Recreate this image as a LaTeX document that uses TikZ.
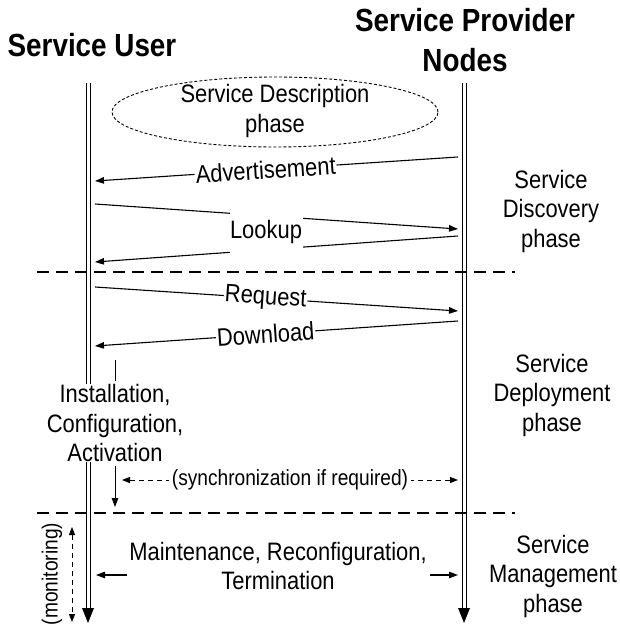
\documentclass[tikz,border=0pt]{standalone}
\usepackage{fontspec}
% slightly condensed face, so the letters are tall for their width
\setmainfont[FakeStretch=0.87]{Liberation Sans}
\usetikzlibrary{arrows.meta,shapes.geometric}

\begin{document}
\begin{tikzpicture}[x=1pt,y=-1pt,
  txt/.style={font=\fontsize{25.2}{29.5}\selectfont, align=center, inner sep=0pt},
  small/.style={font=\fontsize{22}{24}\selectfont, align=center, inner sep=0pt},
  head/.style={font=\fontsize{32}{40}\selectfont\bfseries, align=center, inner sep=0pt},
  msg/.style={line width=1.1pt, -{Triangle[length=9pt,width=6.5pt]}},
  lbl/.style={txt, fill=white, sloped, inner xsep=1pt, inner ysep=1pt},
  phaseline/.style={line width=1.1pt, dash pattern=on 12pt off 7pt},
  sync/.style={line width=1pt, dash pattern=on 5pt off 4pt,
    {Triangle[length=8pt,width=6pt]}-{Triangle[length=8pt,width=6pt]}},
  life/.style={line width=1pt},
]
\useasboundingbox (0,0) rectangle (619,628);

% headers
\node[head] (user) at (92,45) {Service User};
\node[head] (prov) at (465,40) {Service Provider\\Nodes};

% lifelines (double lines with a filled head)
\coordinate (uTop) at (88,83);  \coordinate (uEnd) at (88,609); \coordinate (uBot) at (88,623);
\coordinate (pTop) at (464,83); \coordinate (pEnd) at (464,609); \coordinate (pBot) at (464,623);
\foreach \s in {-2,2} {
  \draw[life] ([xshift=\s pt]uTop) -- ([xshift=\s pt]uEnd);
  \draw[life] ([xshift=\s pt]pTop) -- ([xshift=\s pt]pEnd);
}
\fill (uBot) -- ++(-6,-15) -- ++(12,0) -- cycle;
\fill (pBot) -- ++(-6,-15) -- ++(12,0) -- cycle;

% service description
\node[ellipse, draw, line width=0.9pt, dash pattern=on 3pt off 2pt,
  minimum width=326pt, minimum height=70pt] (desc) at (275,112) {};
\node[txt] (desctxt) at (275,111) {Service Description\\phase};

% discovery messages
\coordinate (a1) at (458,157); \coordinate (a2) at (95,181);
\draw[msg] (a1) -- node[lbl, pos=0.53] (adv) {Advertisement} (a2);
\coordinate (l1) at (95,204);  \coordinate (l2) at (458,229);
\coordinate (l3) at (458,236); \coordinate (l4) at (95,262);
\draw[msg] (l1) -- (l2);
\draw[msg] (l3) -- (l4);
\node[txt, fill=white, minimum width=73pt, minimum height=44pt] (lookup) at (266,232) {Lookup};

% phase separators
\coordinate (s1a) at (37,272); \coordinate (s1b) at (515,272);
\coordinate (s2a) at (37,513); \coordinate (s2b) at (515,513);
\draw[phaseline] (s1a) -- (s1b);
\draw[phaseline] (s2a) -- (s2b);

% deployment messages
\coordinate (r1) at (95,287);  \coordinate (r2) at (458,311);
\draw[msg] (r1) -- node[lbl, pos=0.47] (req) {Request} (r2);
\coordinate (d1) at (458,321); \coordinate (d2) at (95,346);
\draw[msg] (d1) -- node[lbl, pos=0.53] (dl) {Download} (d2);

\coordinate (i1) at (115,360); \coordinate (i2) at (115,381);
\draw[line width=1pt] (i1) -- (i2);
\node[txt, fill=white] (inst) at (115,423) {Installation,\\Configuration,\\Activation};
\coordinate (i3) at (115,466); \coordinate (i4) at (115,507);
\draw[msg, line width=1pt] (i3) -- (i4);

\coordinate (y1) at (122,480); \coordinate (y2) at (458,480);
\draw[sync] (y1) -- node[small, fill=white, inner xsep=3pt] (syn) {(synchronization if required)} (y2);

% management
\node[small, rotate=90] (mon) at (52,574) {(monitoring)};
\coordinate (m1) at (72,527); \coordinate (m2) at (72,622);
\draw[sync] (m1) -- (m2);
\node[txt] (maint) at (278,566) {Maintenance, Reconfiguration,\\Termination};
\coordinate (t1) at (127,575); \coordinate (t2) at (96,575);
\coordinate (t3) at (430,575); \coordinate (t4) at (458,575);
\draw[msg] (t1) -- (t2);
\draw[msg] (t3) -- (t4);

% phase names
\node[txt] (disc) at (551,211) {Service\\Discovery\\phase};
\node[txt] (depl) at (552,395) {Service\\Deployment\\phase};
\node[txt] (mgmt) at (553,576) {Service\\Management\\phase};
\end{tikzpicture}
\end{document}
